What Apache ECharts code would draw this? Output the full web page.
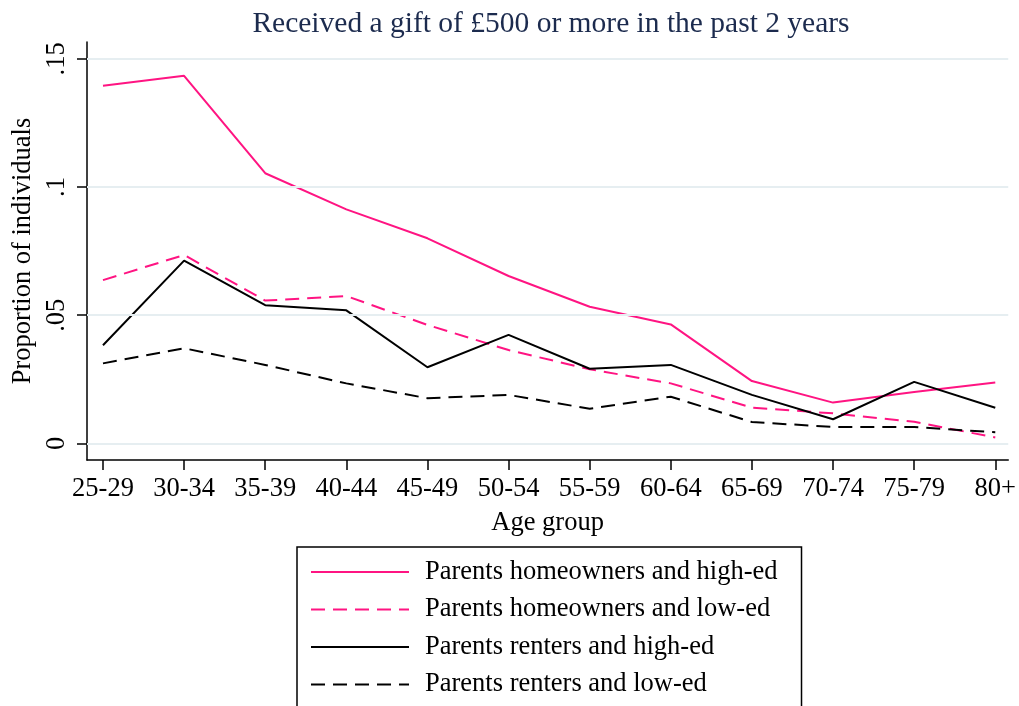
<!DOCTYPE html>
<html>
<head>
<meta charset="utf-8">
<script src="https://cdn.jsdelivr.net/npm/echarts@6/dist/echarts.min.js"></script>
<style>
  html, body { margin: 0; padding: 0; background: #fff; }
  #chart { width: 1019px; height: 706px; }
</style>
</head>
<body>
<div id="chart"></div>
<script>
// age groups on the x axis
var ageGroups = ['25-29', '30-34', '35-39', '40-44', '45-49', '50-54', '55-59', '60-64', '65-69', '70-74', '75-79', '80+']
var yTicks = [0, 0.05, 0.1, 0.15]

// proportion who received a gift of £500+ in the past 2 years
var ownHighEd = [0.1395, 0.1434, 0.1054, 0.0913, 0.0800, 0.0653, 0.0533, 0.0464, 0.0243, 0.0159, 0.0200, 0.0237]
var ownLowEd = [0.0637, 0.0735, 0.0557, 0.0575, 0.0462, 0.0364, 0.0289, 0.0234, 0.0139, 0.0117, 0.0084, 0.0023]
var rentHighEd = [0.0383, 0.0713, 0.0539, 0.0519, 0.0297, 0.0423, 0.0291, 0.0306, 0.0189, 0.0094, 0.0240, 0.0139]
var rentLowEd = [0.0312, 0.0371, 0.0306, 0.0234, 0.0176, 0.0189, 0.0135, 0.0182, 0.0083, 0.0064, 0.0064, 0.0043]

var PINK = '#ff1482'
var FONT = 'Liberation Serif'

function pairs(vals) {
  return vals.map(function (v, i) { return [i, v] })
}

function mkSeries(name, vals, color, dashed) {
  return {
    name: name,
    type: 'line',
    data: pairs(vals),
    symbol: 'none',
    lineStyle: { color: color, width: 2, type: dashed ? [14, 8] : 'solid' },
    itemStyle: { color: color }
  }
}

var xTickIdx = ageGroups.map(function (c, i) { return i })

var chart = echarts.init(document.getElementById('chart'))
chart.setOption({
  animation: false,
  backgroundColor: '#fff',
  title: {
    text: 'Received a gift of £500 or more in the past 2 years',
    left: 546,
    textAlign: 'center',
    top: 4,
    textStyle: { fontFamily: FONT, fontSize: 29.5, fontWeight: 'normal', color: '#1c2b4e' }
  },
  grid: { left: 87, right: 9, top: 42, bottom: 246 },
  xAxis: {
    type: 'value',
    min: -0.197,
    max: 11.16,
    name: 'Age group',
    nameLocation: 'middle',
    nameGap: 50,
    nameTextStyle: { fontFamily: FONT, fontSize: 26.5, color: '#000' },
    axisLine: { show: true, onZero: false, lineStyle: { color: '#000', width: 1.5 } },
    axisTick: { show: true, length: 10, lineStyle: { color: '#000', width: 1.5 }, customValues: xTickIdx },
    axisLabel: {
      customValues: xTickIdx,
      formatter: function (v) { return ageGroups[Math.round(v)] },
      fontFamily: FONT, fontSize: 26.5, color: '#000', margin: 16
    },
    splitLine: { show: false }
  },
  yAxis: {
    type: 'value',
    min: -0.0065,
    max: 0.1566,
    name: 'Proportion of individuals',
    nameLocation: 'middle',
    nameGap: 50,
    nameTextStyle: { fontFamily: FONT, fontSize: 26.5, color: '#000' },
    axisLine: { show: true, onZero: false, lineStyle: { color: '#000', width: 1.5 } },
    axisTick: { show: true, length: 10, lineStyle: { color: '#000', width: 1.5 }, customValues: yTicks },
    axisLabel: {
      customValues: yTicks,
      rotate: 90,
      formatter: function (v) { return v === 0 ? '0' : String(v).replace(/^0/, '') },
      fontFamily: FONT, fontSize: 26.5, color: '#000', margin: 16
    },
    splitLine: { show: false }
  },
  legend: {
    orient: 'vertical',
    left: 297,
    top: 547,
    height: 220,
    padding: [10, 24, 40, 13],
    itemWidth: 98,
    itemHeight: 30,
    itemGap: 7.5,
    itemStyle: { opacity: 0 },
    borderColor: '#000',
    borderWidth: 1.5,
    textStyle: { fontFamily: FONT, fontSize: 26.5, lineHeight: 30, color: '#000', padding: [0, 0, 0, 11] }
  },
  series: [
    mkSeries('Parents homeowners and high-ed', ownHighEd, PINK, false),
    mkSeries('Parents homeowners and low-ed', ownLowEd, PINK, true),
    mkSeries('Parents renters and high-ed', rentHighEd, '#000', false),
    mkSeries('Parents renters and low-ed', rentLowEd, '#000', true),
    {
      // horizontal grid lines at the y ticks
      type: 'line',
      data: [],
      silent: true,
      markLine: {
        symbol: 'none',
        silent: true,
        label: { show: false },
        lineStyle: { color: '#e6eef1', width: 2, type: 'solid' },
        data: yTicks.map(function (t) { return { yAxis: t } })
      },
      z: 1
    }
  ]
})
</script>
</body>
</html>
